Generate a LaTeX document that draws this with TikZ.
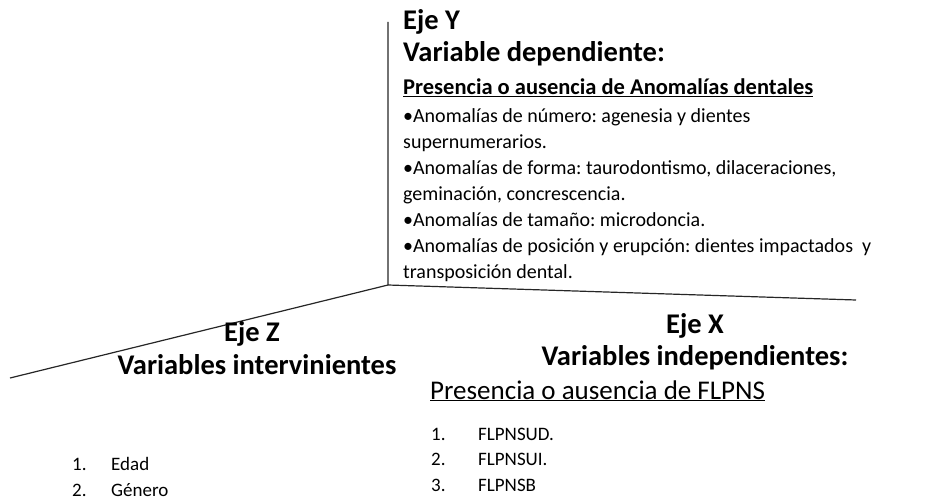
\documentclass[tikz,border=0pt]{standalone}
\usepackage{fontspec}
\setmainfont{Carlito}
\frenchspacing
\begin{document}
\begin{tikzpicture}[x=1pt,y=-1pt,
  title/.style={anchor=base,inner sep=0pt,font=\fontsize{28.5}{32}\selectfont\bfseries},
  ytitle/.style={anchor=base west,inner sep=0pt,font=\fontsize{28.5}{32}\selectfont\bfseries},
  sub/.style={anchor=base west,inner sep=0pt,font=\fontsize{22.5}{26}\selectfont\bfseries},
  body/.style={anchor=base west,inner sep=0pt,font=\fontsize{20}{24}\selectfont},
  xsub/.style={anchor=base west,inner sep=0pt,font=\fontsize{27}{30}\selectfont},
  item/.style={anchor=base west,inner sep=0pt,font=\fontsize{19}{22}\selectfont},
  axis/.style={line width=1.2pt,draw=black!85}]
\useasboundingbox (0,0) rectangle (928,500);
% axes
\coordinate (O) at (388,285);
\coordinate (Ytop) at (388,22);
\coordinate (Xend) at (856,300);
\coordinate (Zend) at (10,378);
\draw[axis] (Ytop) -- (O) -- (Xend);
\draw[axis] (O) -- (Zend);
% Y axis texts
\node[ytitle] (ey) at (403,30) {Eje Y};
\node[ytitle] (vd) at (403,62) {Variable dependiente:};
\node[sub] (pa) at (403,95) {\underline{Presencia o ausencia de Anomalías dentales}};
\node[body] (b1) at (403,122) {•Anomalías de número: agenesia y dientes};
\node[body] (b2) at (403,148) {supernumerarios.};
\node[body] (b3) at (403,174) {•Anomalías de forma: taurodontismo, dilaceraciones,};
\node[body] (b4) at (403,200) {geminación, concrescencia.};
\node[body] (b5) at (403,226) {•Anomalías de tamaño: microdoncia.};
\node[body] (b6) at (403,252) {•Anomalías de posición y erupción: dientes impactados\ \ y};
\node[body] (b7) at (403,278) {transposición dental.};
% X axis texts
\node[title] (ex) at (695,333) {Eje X};
\node[title] (vi) at (695,365) {Variables independientes:};
\node[xsub] (pf) at (430,399) {\underline{Presencia o ausencia de FLPNS}};
\node[item] (n1) at (431,440) {1.};
\node[item] (f1) at (478,440) {FLPNSUD.};
\node[item] (n2) at (431,465) {2.};
\node[item] (f2) at (478,465) {FLPNSUI.};
\node[item] (n3) at (431,491) {3.};
\node[item] (f3) at (478,491) {FLPNSB};
% Z axis texts
\node[title] (ez) at (252,341) {Eje Z};
\node[title] (vz) at (257,374) {Variables intervinientes};
\node[item] (m1) at (72,470) {1.};
\node[item] (e1) at (111,470) {Edad};
\node[item] (m2) at (72,496) {2.};
\node[item] (e2) at (111,496) {Género};
\end{tikzpicture}
\end{document}
